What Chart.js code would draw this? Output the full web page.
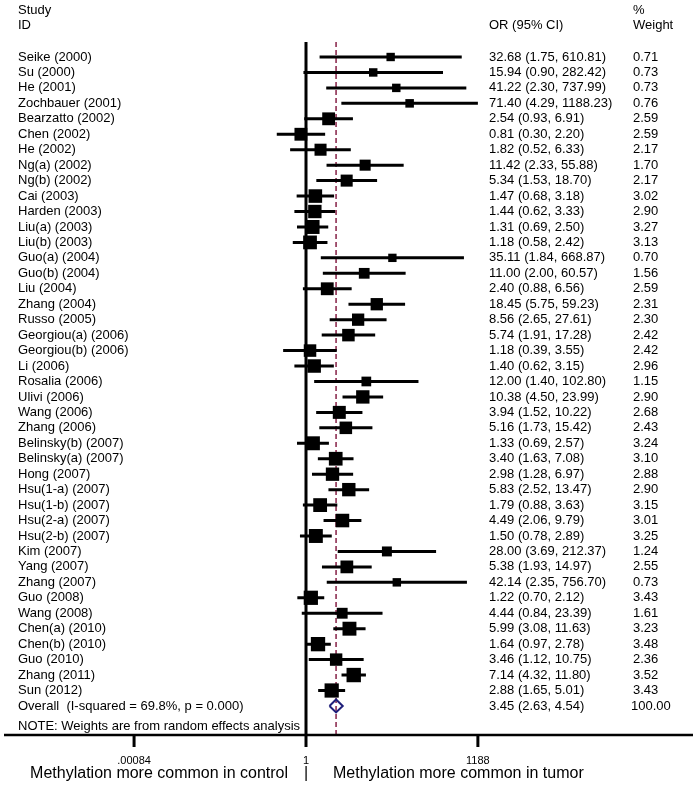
<!DOCTYPE html>
<html><head><meta charset="utf-8">
<script src="https://cdn.jsdelivr.net/npm/chart.js@4.4.0/dist/chart.umd.min.js"></script>
<style>html,body{margin:0;padding:0;background:#fff;}#wrap{width:699px;height:787px;}</style>
</head><body><div id="wrap"><canvas id="c" width="699" height="787"></canvas></div>
<script>
const studies = ["Seike (2000)","Su (2000)","He (2001)","Zochbauer (2001)","Bearzatto (2002)","Chen (2002)","He (2002)","Ng(a) (2002)","Ng(b) (2002)","Cai (2003)","Harden (2003)","Liu(a) (2003)","Liu(b) (2003)","Guo(a) (2004)","Guo(b) (2004)","Liu (2004)","Zhang (2004)","Russo (2005)","Georgiou(a) (2006)","Georgiou(b) (2006)","Li (2006)","Rosalia (2006)","Ulivi (2006)","Wang (2006)","Zhang (2006)","Belinsky(b) (2007)","Belinsky(a) (2007)","Hong (2007)","Hsu(1-a) (2007)","Hsu(1-b) (2007)","Hsu(2-a) (2007)","Hsu(2-b) (2007)","Kim (2007)","Yang (2007)","Zhang (2007)","Guo (2008)","Wang (2008)","Chen(a) (2010)","Chen(b) (2010)","Guo (2010)","Zhang (2011)","Sun (2012)"];
const orValues = [32.68,15.94,41.22,71.40,2.54,0.81,1.82,11.42,5.34,1.47,1.44,1.31,1.18,35.11,11.00,2.40,18.45,8.56,5.74,1.18,1.40,12.00,10.38,3.94,5.16,1.33,3.40,2.98,5.83,1.79,4.49,1.50,28.00,5.38,42.14,1.22,4.44,5.99,1.64,3.46,7.14,2.88];
const ciLower = [1.75,0.90,2.30,4.29,0.93,0.30,0.52,2.33,1.53,0.68,0.62,0.69,0.58,1.84,2.00,0.88,5.75,2.65,1.91,0.39,0.62,1.40,4.50,1.52,1.73,0.69,1.63,1.28,2.52,0.88,2.06,0.78,3.69,1.93,2.35,0.70,0.84,3.08,0.97,1.12,4.32,1.65];
const ciUpper = [610.81,282.42,737.99,1188.23,6.91,2.20,6.33,55.88,18.70,3.18,3.33,2.50,2.42,668.87,60.57,6.56,59.23,27.61,17.28,3.55,3.15,102.80,23.99,10.22,15.42,2.57,7.08,6.97,13.47,3.63,9.79,2.89,212.37,14.97,756.70,2.12,23.39,11.63,2.78,10.75,11.80,5.01];
const weights = [0.71,0.73,0.73,0.76,2.59,2.59,2.17,1.70,2.17,3.02,2.90,3.27,3.13,0.70,1.56,2.59,2.31,2.30,2.42,2.42,2.96,1.15,2.90,2.68,2.43,3.24,3.10,2.88,2.90,3.15,3.01,3.25,1.24,2.55,0.73,3.43,1.61,3.23,3.48,2.36,3.52,3.43];
const overallLabel = "Overall  (I-squared = 69.8%, p = 0.000)";
const overallOR = 3.45;
const overallLower = 2.63;
const overallUpper = 4.54;
const overallWeight = 100.00;
const xTicks = [0.00084, 1, 1188];
const xTickLabels = [".00084", "1", "1188"];

const FONT = '"Liberation Sans", Arial, sans-serif';
const nRows = studies.length;
const overallRow = nRows;

const ciData = [];
studies.forEach((s, i) => {
  ciData.push({x: ciLower[i], y: i});
  ciData.push({x: ciUpper[i], y: i});
  ciData.push({x: ciUpper[i], y: null});
});
const squareData = studies.map((s, i) => ({x: orValues[i], y: i}));
const squareRadius = weights.map(w => (3.5 + 5.8 * Math.sqrt(w)) / Math.SQRT2);
const dh = 0.42;
const diamondData = [
  {x: overallLower, y: overallRow},
  {x: overallOR, y: overallRow - dh},
  {x: overallUpper, y: overallRow},
  {x: overallOR, y: overallRow + dh},
  {x: overallLower, y: overallRow}
];

const forestPlugin = {
  id: 'forest',
  beforeDatasetsDraw(chart) {
    const {ctx, chartArea, scales: {x, y}} = chart;
    const top = y.getPixelForValue(-0.97);
    const bottom = chartArea.bottom;
    ctx.save();
    const xo = x.getPixelForValue(overallOR);
    ctx.strokeStyle = '#862046';
    ctx.lineWidth = 1.5;
    ctx.setLineDash([5, 3]);
    ctx.beginPath(); ctx.moveTo(xo, top); ctx.lineTo(xo, bottom); ctx.stroke();
    ctx.setLineDash([]);
    const x1 = x.getPixelForValue(1);
    ctx.strokeStyle = '#000';
    ctx.lineWidth = 3;
    ctx.beginPath(); ctx.moveTo(x1, top); ctx.lineTo(x1, bottom); ctx.stroke();
    ctx.lineWidth = 2.5;
    ctx.beginPath(); ctx.moveTo(chartArea.left, bottom); ctx.lineTo(chartArea.right, bottom); ctx.stroke();
    ctx.lineWidth = 3;
    ctx.fillStyle = '#000';
    ctx.font = '11px ' + FONT;
    ctx.textAlign = 'center';
    ctx.textBaseline = 'middle';
    xTicks.forEach((t, i) => {
      const px = x.getPixelForValue(t);
      ctx.beginPath(); ctx.moveTo(px, bottom); ctx.lineTo(px, bottom + 12); ctx.stroke();
      ctx.fillText(xTickLabels[i], px, bottom + 26);
    });
    ctx.font = '16px ' + FONT;
    ctx.textAlign = 'right';
    ctx.fillText('Methylation more common in control', x1 - 18, bottom + 39);
    ctx.textAlign = 'center';
    ctx.fillText('|', x1, bottom + 39);
    ctx.textAlign = 'left';
    ctx.fillText('Methylation more common in tumor', x1 + 27, bottom + 39);
    ctx.restore();
  },
  afterDraw(chart) {
    const {ctx, scales: {y}} = chart;
    ctx.save();
    ctx.fillStyle = '#000';
    ctx.font = '13px ' + FONT;
    ctx.textBaseline = 'middle';
    ctx.textAlign = 'left';
    const colStudy = 18, colOR = 489, colW = 633;
    ctx.fillText('Study', colStudy, 10);
    ctx.fillText('ID', colStudy, 25);
    ctx.fillText('OR (95% CI)', colOR, 25);
    ctx.fillText('%', colW, 10);
    ctx.fillText('Weight', colW, 25);
    const fmt = v => v.toFixed(2);
    studies.forEach((s, i) => {
      const py = y.getPixelForValue(i);
      ctx.fillText(s, colStudy, py);
      ctx.fillText(fmt(orValues[i]) + ' (' + fmt(ciLower[i]) + ', ' + fmt(ciUpper[i]) + ')', colOR, py);
      ctx.fillText(fmt(weights[i]), colW, py);
    });
    const po = y.getPixelForValue(overallRow);
    ctx.fillText(overallLabel, colStudy, po);
    ctx.fillText(fmt(overallOR) + ' (' + fmt(overallLower) + ', ' + fmt(overallUpper) + ')', colOR, po);
    ctx.fillText(fmt(overallWeight), colW - 2, po);
    ctx.fillText('NOTE: Weights are from random effects analysis', colStudy, y.getPixelForValue(overallRow + 1.3));
    ctx.restore();
  }
};

new Chart(document.getElementById('c'), {
  type: 'scatter',
  data: {
    datasets: [
      {type: 'line', data: ciData, borderColor: '#000', borderWidth: 3, pointRadius: 0, showLine: true, spanGaps: false, fill: false, order: 3},
      {type: 'scatter', data: squareData, pointStyle: 'rect', pointRadius: squareRadius, backgroundColor: '#000', borderWidth: 0, order: 2},
      {type: 'line', data: diamondData, borderColor: '#1f1f7a', borderWidth: 2, pointRadius: 0, showLine: true, fill: false, tension: 0, order: 1}
    ]
  },
  options: {
    responsive: false,
    devicePixelRatio: 1,
    animation: false,
    layout: {autoPadding: false, padding: {left: 4, right: 6, top: 0, bottom: 52}},
    plugins: {legend: {display: false}, tooltip: {enabled: false}},
    scales: {
      x: {type: 'logarithmic', min: Math.pow(10, -5.4025), max: Math.pow(10, 6.923), bounds: 'data', display: false},
      y: {type: 'linear', min: -3.689, max: 43.88, reverse: true, display: false}
    }
  },
  plugins: [forestPlugin]
});
</script>
</body></html>
